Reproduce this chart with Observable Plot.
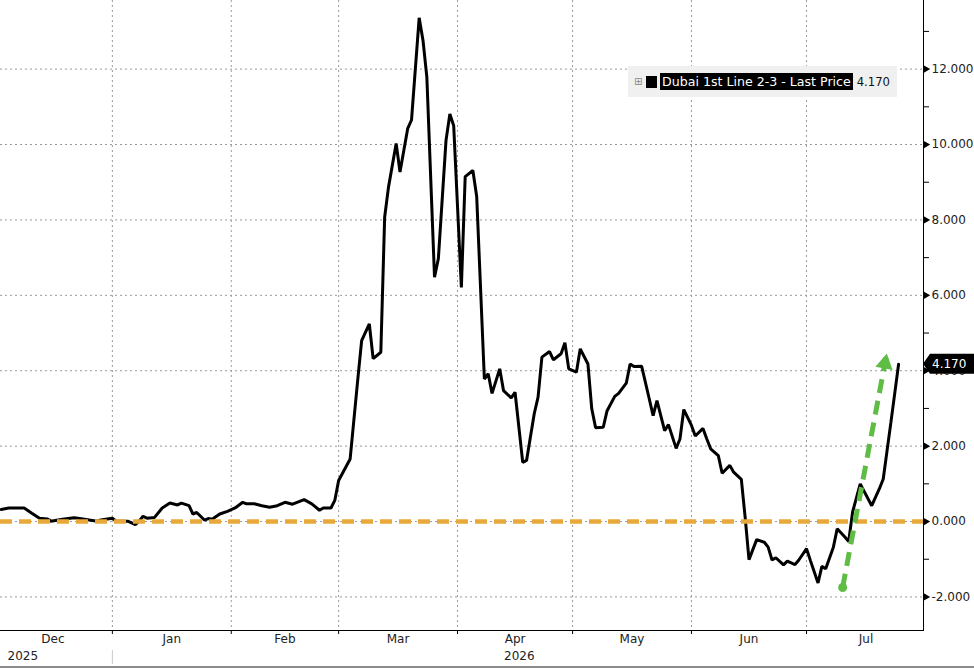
<!DOCTYPE html>
<html>
<head>
<meta charset="utf-8">
<script src="https://cdn.jsdelivr.net/npm/d3@7"></script>
<script src="https://cdn.jsdelivr.net/npm/@observablehq/plot@0.6"></script>
<style>
  body { margin: 0; background: #fff; font-family: "DejaVu Sans", sans-serif; }
  #wrap { position: relative; width: 974px; height: 669px; overflow: hidden; }
  #legend { position: absolute; left: 628px; top: 66px; width: 269px; height: 31px; background: #f0f0f0;
            display: flex; align-items: center; font-size: 12px; white-space: nowrap; }
  #legend .icon { color: #888; font-size: 10px; margin-left: 6px; width: 10px; }
  #legend .sq { display: inline-block; width: 11px; height: 12px; background: #000; margin-left: 2px; margin-right: 3px; }
  #legend .name { background: #000; color: #fff; padding: 1px 2px; font-size: 12.6px; }
  #legend .val { color: #111; margin-left: 4px; font-size: 11.6px; }
  #bottomline { position: absolute; left: 0; top: 666px; width: 974px; height: 2px; background: #8c8c8c; }
</style>
</head>
<body>
<div id="wrap">
  <div id="chart"></div>
  <div id="legend"><span class="icon">⊞</span><span class="sq"></span><span class="name" id="lname"></span><span class="val" id="lval"></span></div>
  <div id="bottomline"></div>
</div>
<script>
// ---- data ----
const seriesName = "Dubai 1st Line 2-3 - Last Price";
const dates = [
  "2025-12-03","2025-12-05","2025-12-09","2025-12-11","2025-12-13","2025-12-15","2025-12-16","2025-12-19",
  "2025-12-22","2025-12-23","2025-12-26","2025-12-28","2025-12-29",
  "2026-01-01","2026-01-02","2026-01-05","2026-01-07","2026-01-08","2026-01-09","2026-01-10","2026-01-12",
  "2026-01-14","2026-01-16","2026-01-18","2026-01-19","2026-01-21","2026-01-22","2026-01-23","2026-01-25",
  "2026-01-26","2026-01-27","2026-01-29","2026-01-31",
  "2026-02-02","2026-02-04","2026-02-05","2026-02-07","2026-02-09","2026-02-11","2026-02-13","2026-02-15",
  "2026-02-17","2026-02-20","2026-02-22","2026-02-24","2026-02-25","2026-02-27","2026-02-28",
  "2026-03-01","2026-03-04","2026-03-06","2026-03-07","2026-03-09","2026-03-10","2026-03-12","2026-03-13",
  "2026-03-14","2026-03-16","2026-03-17","2026-03-19","2026-03-20","2026-03-22","2026-03-23","2026-03-24",
  "2026-03-26","2026-03-27","2026-03-29","2026-03-30","2026-03-31",
  "2026-04-02","2026-04-03","2026-04-05","2026-04-06","2026-04-08","2026-04-09","2026-04-10","2026-04-12",
  "2026-04-13","2026-04-15","2026-04-16","2026-04-18","2026-04-19","2026-04-21","2026-04-22","2026-04-23",
  "2026-04-25","2026-04-26","2026-04-28","2026-04-29","2026-04-30",
  "2026-05-02","2026-05-03","2026-05-05","2026-05-06","2026-05-07","2026-05-09","2026-05-10","2026-05-12",
  "2026-05-13","2026-05-15","2026-05-16","2026-05-17","2026-05-19","2026-05-21","2026-05-22","2026-05-23",
  "2026-05-25","2026-05-26","2026-05-28","2026-05-29","2026-05-30",
  "2026-06-01","2026-06-02","2026-06-04","2026-06-05","2026-06-06","2026-06-08","2026-06-09","2026-06-11",
  "2026-06-12","2026-06-14","2026-06-15","2026-06-16","2026-06-18","2026-06-20","2026-06-21","2026-06-22",
  "2026-06-23","2026-06-25","2026-06-26","2026-06-28","2026-06-29",
  "2026-07-01","2026-07-02","2026-07-04","2026-07-05","2026-07-06","2026-07-08","2026-07-09","2026-07-11",
  "2026-07-12","2026-07-13","2026-07-15","2026-07-18","2026-07-20","2026-07-21","2026-07-22","2026-07-23",
  "2026-07-25"
];
const values = [
  0.32,0.36,0.36,0.22,0.09,0.07,0.01,0.06,
  0.10,0.09,0.04,0.01,0.04,
  0.09,0.01,0.01,-0.08,0.01,0.14,0.09,0.11,
  0.36,0.49,0.44,0.49,0.42,0.20,0.24,0.04,
  0.08,0.06,0.20,0.27,
  0.36,0.51,0.47,0.47,0.42,0.38,0.42,0.51,
  0.46,0.58,0.47,0.30,0.36,0.36,0.56,
  1.09,1.66,3.78,4.80,5.24,4.32,4.49,8.07,
  8.87,10.03,9.27,10.42,10.65,13.36,12.76,11.79,
  6.48,6.97,10.11,10.81,10.50,
  6.21,9.15,9.31,8.62,3.78,3.92,3.40,4.05,
  3.47,3.28,3.43,1.57,1.62,2.86,3.30,4.36,
  4.51,4.29,4.45,4.74,4.05,
  3.96,4.58,4.18,2.99,2.49,2.50,2.94,3.32,
  3.40,3.67,4.18,4.11,4.12,3.25,2.81,3.21,
  2.41,2.57,1.94,2.19,2.97,
  2.55,2.27,2.47,2.19,1.93,1.75,1.28,1.49,
  1.31,1.12,0.11,-1.01,-0.48,-0.55,-0.68,-1.02,
  -0.96,-1.15,-1.05,-1.14,-1.02,
  -0.72,-1.03,-1.63,-1.19,-1.25,-0.68,-0.19,-0.41,
  -0.53,0.25,1.00,0.42,0.87,1.13,1.88,2.63,
  4.17
];
const yTicks = [-2, 0, 2, 4, 6, 8, 10, 12];
const yMinorTicks = [-1, 1, 3, 5, 7, 9, 11, 13];
const monthStarts = ["2025-12-01","2026-01-01","2026-02-01","2026-03-01","2026-04-01","2026-05-01","2026-06-01","2026-07-01","2026-08-01"];
const monthNames = ["Dec","Jan","Feb","Mar","Apr","May","Jun","Jul"];
const yearNames = ["2025", "2026"];
const yearAnchorMonths = ["Dec", "Apr"];
const referenceLevel = [0];
const arrowDates = ["2026-07-10T10:00Z", "2026-07-21T22:00Z"];
const arrowValues = [-1.75, 4.45];
const xDomain = ["2025-12-02T20:00Z", "2026-07-31T12:00Z"];
const yDomain = [-2.89, 13.82];

// ---- derived tables ----
const data = dates.map((d, i) => ({date: new Date(d), value: values[i]}));
const mStarts = monthStarts.map(d => new Date(d));
const gridMonths = mStarts.filter(d => d > new Date(xDomain[0]) && d < new Date(xDomain[1]));
const monthLabels = monthNames.map((name, i) => ({name, mid: new Date((+mStarts[i] + +mStarts[i + 1]) / 2)}));
const yearLabels = yearNames.map((y, i) => {
  const m = monthLabels.find(d => d.name === yearAnchorMonths[i]);
  return {year: y, at: i === 0 ? new Date(xDomain[0]) : m.mid, first: i === 0};
});
const arrow = [{x1: new Date(arrowDates[0]), y1: arrowValues[0], x2: new Date(arrowDates[1]), y2: arrowValues[1]}];
const last = data[data.length - 1];

const green = "#5fbd45";
const orange = "#e9a93a";

const chart = Plot.plot({
  width: 974,
  height: 669,
  marginTop: 0,
  marginLeft: 0,
  marginRight: 51,
  marginBottom: 39,
  style: {fontFamily: "DejaVu Sans, sans-serif", fontSize: "12px", background: "#fff", overflow: "visible"},
  x: {type: "utc", domain: xDomain.map(d => new Date(d))},
  y: {domain: yDomain},
  marks: [
    Plot.gridY(yTicks, {stroke: "#9a9a9a", strokeOpacity: 1, strokeDasharray: "2,3"}),
    Plot.gridX(gridMonths, {stroke: "#9a9a9a", strokeOpacity: 1, strokeDasharray: "2,3"}),
    Plot.lineY(data, {x: "date", y: "value", stroke: "#000", strokeWidth: 3, strokeLinejoin: "miter"}),
    Plot.ruleY(referenceLevel, {stroke: orange, strokeWidth: 4.5, strokeDasharray: "12,7"}),
    Plot.link(arrow, {x1: "x1", y1: "y1", x2: "x2", y2: "y2", stroke: green, strokeWidth: 5, strokeDasharray: "14,8"}),
    Plot.dot(arrow, {x: "x1", y: "y1", r: 4.5, fill: green}),
    Plot.dot(arrow, {x: "x2", y: "y2", symbol: "triangle", r: 6.5, fill: green, rotate: 10.75, dx: -1.8, dy: 9.6}),
    Plot.frame({anchor: "bottom", stroke: "#000"}),
    Plot.frame({anchor: "right", stroke: "#000"}),
    Plot.axisX(gridMonths, {tickSize: 4, tickFormat: () => "", stroke: "#000"}),
    Plot.text(monthLabels, {x: "mid", text: "name", frameAnchor: "bottom", dy: 12, fill: "#222", fontSize: 12}),
    Plot.text(yearLabels, {x: "at", text: "year", frameAnchor: "bottom", dy: 29, textAnchor: "start",
      dx: 7, fill: "#222", fontSize: 12, filter: d => d.first}),
    Plot.text(yearLabels, {x: "at", text: "year", frameAnchor: "bottom", dy: 29, textAnchor: "start",
      dx: -11, fill: "#222", fontSize: 12, filter: d => !d.first}),
    Plot.ruleX(gridMonths.slice(0, 1), {stroke: "#c8c8c8", insetTop: 650, insetBottom: -34}),
    Plot.axisY(yMinorTicks, {anchor: "right", tickSize: 5, tickFormat: () => "", stroke: "#000"}),
    Plot.axisY(yTicks, {anchor: "right", tickSize: 0, tickPadding: 8, tickFormat: d => d.toFixed(3), fill: "#222", fontSize: 12}),
    Plot.dot(yTicks, {y: d => d, frameAnchor: "right", symbol: "triangle", rotate: 90, r: 2.7, fill: "#000", dx: 2.5})
  ]
});
document.getElementById("chart").appendChild(chart);

// end-value tag, placed with the chart's own y scale
const svg = d3.select(chart);
const yPos = chart.scale("y").apply(last.value);
const xAxisPos = 974 - 51;
const tag = svg.append("g");
tag.append("path")
  .attr("d", `M${xAxisPos},${yPos} L${xAxisPos + 7},${yPos - 10} L974,${yPos - 10} L974,${yPos + 10} L${xAxisPos + 7},${yPos + 10} Z`)
  .attr("fill", "#000");
tag.append("text")
  .attr("x", xAxisPos + 9).attr("y", yPos).attr("dy", "0.35em")
  .attr("text-anchor", "start")
  .attr("fill", "#fff").attr("font-size", 12).attr("font-family", "DejaVu Sans, sans-serif")
  .text(last.value.toFixed(3));

document.getElementById("lname").textContent = seriesName;
document.getElementById("lval").textContent = last.value.toFixed(3);
</script>
</body>
</html>
